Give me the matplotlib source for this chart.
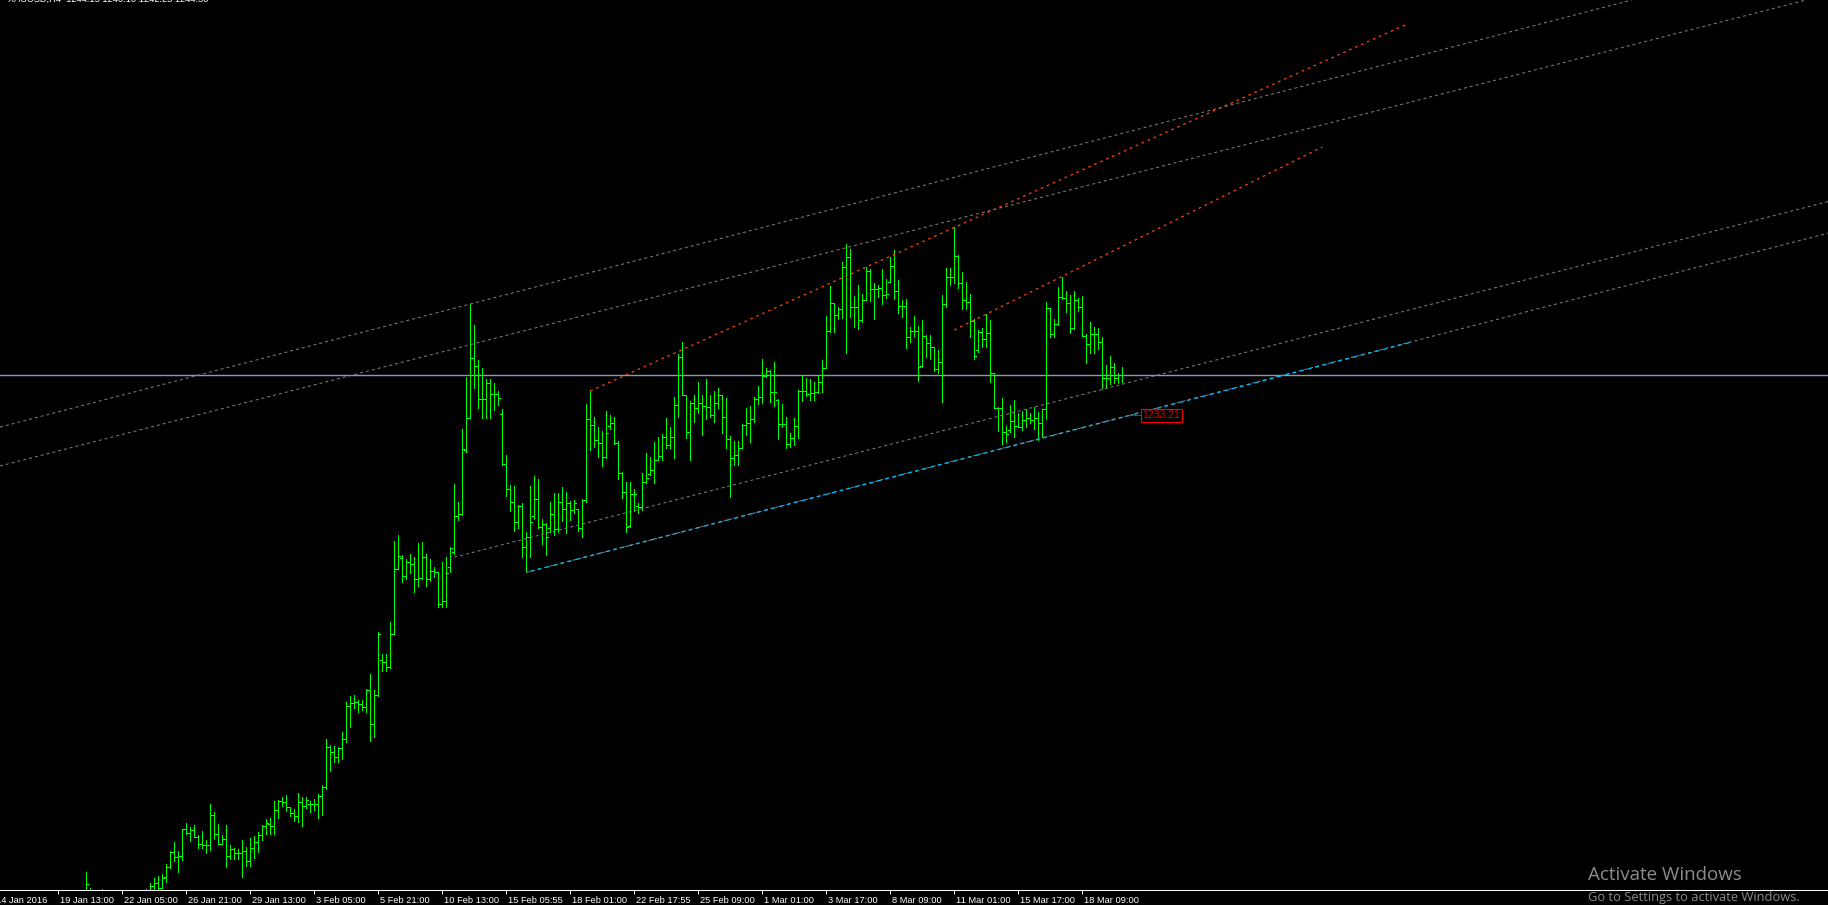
import numpy as np
import matplotlib
matplotlib.use("Agg")
import matplotlib.pyplot as plt
import matplotlib.font_manager as fm

# XAUUSD H4 bars, index of first drawn bar
first_bar = 21

opens = [
    1113.3, 1113.0, 1111.0, 1110.5, 1112.0, 1110.0, 1108.0, 1106.5, 1108.5, 1107.0,
    1105.0, 1106.5, 1109.0, 1108.0, 1110.5, 1111.5, 1112.5, 1115.5, 1116.3, 1115.0,
    1117.7, 1120.3, 1124.0, 1122.8, 1123.0, 1129.7, 1128.7, 1129.5, 1127.8, 1125.9,
    1125.7, 1125.7, 1133.2, 1128.6, 1126.1, 1127.2, 1123.0, 1124.8, 1123.8, 1123.7,
    1124.3, 1121.8, 1125.0, 1126.5, 1128.3, 1130.5, 1131.0, 1130.5, 1134.4, 1136.7,
    1136.4, 1135.3, 1133.7, 1133.0, 1136.4, 1135.6, 1136.0, 1136.1, 1135.9, 1138.0,
    1140.2, 1150.3, 1148.9, 1147.7, 1150.0, 1152.3, 1160.4, 1161.3, 1161.4, 1161.0,
    1160.3, 1164.5, 1156.0, 1163.2, 1172.0, 1171.4, 1170.2, 1178.5, 1194.8, 1197.5,
    1193.0, 1196.4, 1196.0, 1192.3, 1192.6, 1197.7, 1192.3, 1194.2, 1193.9, 1186.0,
    1186.8, 1195.2, 1199.0, 1208.1, 1208.5, 1224.5, 1232.4, 1247.4, 1245.5, 1237.3,
    1237.3, 1241.2, 1238.4, 1238.4, 1233.5, 1220.9, 1214.7, 1211.4, 1206.4, 1210.6,
    1200.3, 1202.8, 1208.0, 1212.2, 1205.3, 1205.9, 1205.0, 1208.4, 1204.7, 1211.6,
    1209.7, 1211.3, 1209.5, 1209.8, 1204.9, 1212.0, 1232.3, 1230.8, 1227.0, 1226.2,
    1222.8, 1230.5, 1231.2, 1226.3, 1218.7, 1214.1, 1205.6, 1213.5, 1210.5, 1210.3,
    1216.4, 1218.5, 1219.5, 1222.0, 1223.0, 1227.8, 1225.8, 1227.8, 1235.8, 1247.7,
    1238.3, 1229.1, 1236.2, 1234.9, 1236.2, 1235.5, 1235.3, 1233.3, 1236.3, 1238.3,
    1232.8, 1227.2, 1222.4, 1223.3, 1224.9, 1230.8, 1231.2, 1232.2, 1237.2, 1237.8,
    1243.0, 1244.3, 1238.9, 1237.0, 1230.9, 1230.9, 1225.9, 1227.6, 1230.6, 1239.3,
    1239.3, 1238.5, 1238.7, 1239.1, 1241.6, 1244.9, 1254.3, 1261.2, 1258.3, 1259.8,
    1270.2, 1272.8, 1260.3, 1260.3, 1257.0, 1262.0, 1269.3, 1264.8, 1264.8, 1264.9,
    1263.3, 1266.5, 1270.6, 1264.3, 1260.5, 1260.5, 1252.8, 1254.3, 1254.3, 1245.5,
    1253.0, 1251.3, 1250.3, 1244.7, 1246.4, 1261.0, 1267.7, 1267.7, 1273.0, 1266.3,
    1262.0, 1261.6, 1256.8, 1249.5, 1253.9, 1252.3, 1253.7, 1243.8, 1235.1, 1234.9,
    1228.9, 1229.5, 1231.8, 1230.5, 1230.3, 1232.0, 1232.4, 1232.0, 1232.4, 1231.2,
    1234.7, 1259.9, 1253.4, 1255.9, 1262.7, 1262.4, 1261.2, 1254.9, 1262.0, 1260.2,
    1253.0, 1251.0, 1253.5, 1253.5, 1251.6, 1242.4, 1242.4, 1245.3, 1242.4, 1243.3,
]
highs = [
    1119.0, 1115.0, 1113.5, 1113.0, 1114.8, 1112.5, 1111.0, 1110.0, 1112.0, 1109.5,
    1108.0, 1110.5, 1112.0, 1111.5, 1113.5, 1114.8, 1116.3, 1117.5, 1118.0, 1118.5,
    1121.0, 1124.3, 1126.5, 1124.3, 1129.8, 1131.3, 1130.3, 1130.8, 1128.3, 1129.3,
    1127.0, 1136.0, 1134.0, 1131.0, 1128.2, 1130.8, 1125.7, 1125.1, 1124.8, 1127.0,
    1125.3, 1127.5, 1128.0, 1129.0, 1130.8, 1132.3, 1132.6, 1136.8, 1137.1, 1137.8,
    1138.3, 1135.3, 1134.7, 1138.8, 1137.8, 1137.8, 1136.8, 1137.3, 1138.6, 1140.8,
    1152.3, 1150.8, 1150.6, 1150.3, 1154.1, 1161.4, 1163.1, 1163.3, 1162.1, 1162.1,
    1164.8, 1168.6, 1164.6, 1179.1, 1173.5, 1173.5, 1181.6, 1201.8, 1203.3, 1198.3,
    1197.3, 1198.5, 1197.8, 1201.3, 1201.5, 1198.5, 1197.3, 1195.3, 1193.9, 1196.4,
    1197.7, 1200.3, 1216.0, 1211.6, 1229.8, 1242.7, 1261.0, 1255.8, 1247.0, 1244.9,
    1242.3, 1242.3, 1241.2, 1239.3, 1234.8, 1223.3, 1215.8, 1215.5, 1210.8, 1211.3,
    1203.9, 1215.5, 1218.0, 1217.2, 1207.2, 1206.2, 1211.6, 1213.7, 1213.7, 1215.2,
    1213.9, 1211.8, 1212.0, 1209.8, 1212.3, 1236.0, 1239.3, 1232.8, 1230.3, 1229.3,
    1234.3, 1233.3, 1232.8, 1226.8, 1219.1, 1216.6, 1216.4, 1214.8, 1211.2, 1218.7,
    1223.8, 1222.8, 1226.6, 1227.7, 1228.5, 1232.6, 1230.3, 1237.8, 1248.5, 1251.6,
    1238.3, 1236.8, 1238.3, 1241.4, 1238.3, 1242.2, 1238.3, 1239.3, 1239.9, 1238.3,
    1237.4, 1228.0, 1226.8, 1226.8, 1231.0, 1235.1, 1235.5, 1237.8, 1240.6, 1247.3,
    1244.9, 1244.5, 1246.4, 1237.3, 1236.0, 1232.7, 1228.7, 1232.4, 1239.5, 1243.0,
    1242.6, 1242.3, 1241.6, 1243.3, 1247.0, 1258.0, 1265.5, 1261.3, 1260.2, 1271.6,
    1276.0, 1274.8, 1263.0, 1265.8, 1263.5, 1270.3, 1269.8, 1266.2, 1265.8, 1269.7,
    1267.3, 1272.8, 1274.5, 1267.0, 1262.0, 1262.2, 1255.2, 1258.1, 1255.6, 1257.0,
    1253.3, 1253.3, 1250.3, 1249.5, 1263.3, 1270.0, 1270.1, 1280.3, 1273.3, 1268.9,
    1266.6, 1263.5, 1257.2, 1254.5, 1254.9, 1258.5, 1257.0, 1243.8, 1235.2, 1237.4,
    1230.5, 1235.8, 1237.0, 1233.8, 1234.3, 1234.8, 1233.8, 1235.2, 1234.1, 1234.8,
    1261.4, 1259.9, 1257.3, 1265.3, 1267.8, 1264.3, 1263.3, 1264.3, 1262.4, 1263.0,
    1253.5, 1256.6, 1255.3, 1254.9, 1252.8, 1245.8, 1248.0, 1246.2, 1243.7, 1245.3,
]
lows = [
    1110.0, 1109.5, 1108.0, 1107.5, 1108.5, 1106.0, 1104.5, 1103.0, 1105.5, 1103.5,
    1102.0, 1104.0, 1106.5, 1105.0, 1107.5, 1108.5, 1110.0, 1113.0, 1114.8, 1115.0,
    1116.6, 1120.1, 1121.8, 1119.1, 1122.1, 1128.4, 1126.8, 1127.8, 1125.1, 1125.1,
    1123.8, 1124.6, 1127.3, 1126.1, 1126.1, 1120.3, 1122.3, 1122.3, 1122.3, 1117.8,
    1120.5, 1120.5, 1122.5, 1124.0, 1127.0, 1128.5, 1128.5, 1128.5, 1132.6, 1135.6,
    1134.3, 1133.1, 1131.8, 1131.6, 1130.6, 1135.1, 1134.1, 1134.4, 1132.6, 1133.3,
    1139.8, 1144.3, 1146.6, 1146.6, 1147.3, 1151.4, 1155.3, 1160.1, 1159.1, 1159.4,
    1159.1, 1151.8, 1152.8, 1163.1, 1169.3, 1169.3, 1169.9, 1178.5, 1194.8, 1191.6,
    1192.3, 1193.8, 1189.1, 1190.6, 1192.3, 1190.6, 1191.8, 1192.8, 1185.3, 1185.3,
    1185.3, 1194.1, 1198.5, 1207.0, 1208.3, 1224.1, 1232.4, 1240.1, 1235.1, 1232.4,
    1232.4, 1232.4, 1234.5, 1235.8, 1220.8, 1213.1, 1209.3, 1204.3, 1204.9, 1197.7,
    1193.9, 1197.7, 1207.2, 1204.9, 1200.9, 1198.3, 1204.1, 1203.3, 1204.1, 1206.8,
    1203.7, 1207.0, 1208.7, 1204.3, 1202.8, 1211.6, 1224.5, 1225.3, 1222.8, 1220.6,
    1222.6, 1229.7, 1225.9, 1217.2, 1212.6, 1204.1, 1205.3, 1209.3, 1208.8, 1209.5,
    1216.2, 1218.3, 1216.2, 1222.0, 1222.0, 1224.9, 1224.9, 1222.4, 1232.7, 1238.3,
    1227.4, 1222.0, 1231.6, 1233.7, 1228.3, 1232.2, 1232.8, 1231.6, 1234.9, 1228.7,
    1224.9, 1212.8, 1220.8, 1220.8, 1224.9, 1228.3, 1226.6, 1231.6, 1236.0, 1236.2,
    1242.8, 1236.6, 1235.6, 1227.3, 1230.3, 1225.1, 1225.3, 1225.8, 1227.6, 1236.8,
    1238.1, 1237.0, 1237.0, 1238.7, 1239.1, 1244.9, 1254.1, 1253.9, 1257.3, 1257.4,
    1248.7, 1257.8, 1255.3, 1254.7, 1256.4, 1262.0, 1261.8, 1257.2, 1262.8, 1260.9,
    1262.6, 1266.4, 1262.2, 1258.7, 1257.8, 1249.9, 1251.6, 1253.0, 1241.8, 1245.3,
    1247.8, 1247.2, 1244.3, 1243.7, 1236.6, 1260.3, 1265.8, 1266.3, 1264.9, 1259.7,
    1259.7, 1252.7, 1247.2, 1249.1, 1250.3, 1250.2, 1241.6, 1234.9, 1229.3, 1225.9,
    1226.6, 1228.9, 1227.8, 1230.2, 1229.5, 1230.2, 1231.3, 1229.7, 1227.0, 1227.8,
    1232.2, 1252.7, 1252.7, 1255.8, 1262.3, 1259.1, 1253.7, 1254.7, 1259.3, 1253.0,
    1246.3, 1248.7, 1248.7, 1249.7, 1239.9, 1239.9, 1241.0, 1241.2, 1241.2, 1241.6,
]
closes = [
    1116.0, 1111.0, 1110.5, 1112.0, 1110.0, 1108.0, 1106.5, 1108.5, 1107.0, 1105.0,
    1106.5, 1109.0, 1108.0, 1110.5, 1111.5, 1112.5, 1115.5, 1116.3, 1115.0, 1117.5,
    1120.3, 1123.9, 1122.8, 1123.0, 1129.7, 1128.7, 1129.5, 1127.8, 1125.9, 1125.7,
    1125.7, 1133.2, 1128.6, 1126.1, 1127.2, 1123.0, 1124.8, 1123.8, 1123.7, 1124.3,
    1121.8, 1125.0, 1126.5, 1128.3, 1130.6, 1131.3, 1130.5, 1134.4, 1136.7, 1136.4,
    1135.3, 1133.7, 1133.0, 1136.4, 1135.6, 1137.0, 1136.1, 1135.9, 1138.0, 1140.2,
    1150.3, 1148.9, 1147.7, 1150.0, 1152.3, 1160.4, 1161.3, 1161.4, 1161.0, 1160.3,
    1164.5, 1156.0, 1163.2, 1178.4, 1171.4, 1170.2, 1178.5, 1194.8, 1198.1, 1193.0,
    1196.4, 1196.0, 1192.3, 1192.6, 1197.7, 1192.3, 1194.2, 1193.9, 1186.0, 1186.8,
    1193.7, 1199.9, 1208.1, 1208.5, 1224.8, 1232.4, 1247.4, 1245.5, 1237.3, 1237.3,
    1241.2, 1238.4, 1238.4, 1237.4, 1220.9, 1214.7, 1211.4, 1206.4, 1210.6, 1200.3,
    1202.8, 1206.5, 1212.2, 1205.3, 1205.9, 1202.8, 1208.4, 1204.7, 1211.6, 1209.7,
    1211.3, 1209.5, 1211.3, 1204.9, 1212.0, 1232.3, 1230.8, 1227.0, 1226.2, 1222.8,
    1228.8, 1231.2, 1226.3, 1218.7, 1214.1, 1205.2, 1213.5, 1213.5, 1210.3, 1216.6,
    1217.6, 1219.5, 1222.0, 1223.0, 1227.8, 1225.8, 1227.8, 1235.8, 1247.7, 1238.3,
    1229.1, 1236.2, 1234.9, 1236.2, 1235.5, 1235.3, 1233.3, 1236.3, 1238.3, 1232.8,
    1227.2, 1222.4, 1223.3, 1224.9, 1230.8, 1231.2, 1232.2, 1237.2, 1237.8, 1243.0,
    1244.3, 1238.9, 1239.1, 1230.9, 1230.9, 1225.9, 1227.6, 1230.6, 1239.3, 1239.3,
    1238.5, 1238.7, 1239.1, 1241.6, 1244.9, 1254.3, 1261.2, 1258.3, 1259.8, 1270.2,
    1272.8, 1260.3, 1260.3, 1257.0, 1262.0, 1269.3, 1264.8, 1264.8, 1264.9, 1263.3,
    1263.5, 1270.6, 1264.3, 1260.5, 1260.5, 1252.8, 1254.3, 1254.3, 1245.2, 1253.0,
    1251.3, 1250.3, 1244.7, 1246.4, 1261.0, 1267.7, 1267.7, 1273.0, 1266.3, 1262.0,
    1261.6, 1256.8, 1248.0, 1253.9, 1252.3, 1253.7, 1243.8, 1235.1, 1234.9, 1228.9,
    1228.4, 1231.8, 1230.5, 1230.3, 1232.0, 1232.4, 1232.0, 1232.4, 1231.2, 1234.7,
    1259.9, 1253.4, 1255.9, 1262.7, 1262.4, 1261.2, 1254.9, 1262.0, 1260.2, 1253.0,
    1251.0, 1253.5, 1253.5, 1251.6, 1242.4, 1242.4, 1245.3, 1242.4, 1243.3, 1243.3,
]

# time axis labels (bar index, text)
label_bars = [-2, 14, 30, 46, 62, 78, 94, 110, 126, 142, 158, 174, 190, 206, 222, 238, 254, 270]
label_texts = ["14 Jan 2016", "19 Jan 13:00", "22 Jan 05:00", "26 Jan 21:00", "29 Jan 13:00",
               "3 Feb 05:00", "5 Feb 21:00", "10 Feb 13:00", "15 Feb 05:55", "18 Feb 01:00",
               "22 Feb 17:55", "25 Feb 09:00", "1 Mar 01:00", "3 Mar 17:00", "8 Mar 09:00",
               "11 Mar 01:00", "15 Mar 17:00", "18 Mar 09:00"]

# trendline objects: (bar1, price1, bar2, price2)
gray_rays_both = [(117, 1261.0, 407, 1336.9), (0, 1220.65, 400, 1323.85)]
gray_rays_right = [(113, 1197.7, 400, 1272.0), (131, 1193.9, 400, 1264.0)]
blue_line = (131, 1193.9, 352, 1251.4)
orange_lines = [(147, 1239.25, 351, 1330.9), (238, 1254.5, 330, 1300.25)]
price_label = 1233.21
title = "XAUUSD,H4  1244.15 1246.10 1242.25 1244.50"

names = {f.name for f in fm.fontManager.ttflist}
narrow = "Liberation Sans Narrow" in names
small_font = "Liberation Sans Narrow" if narrow else "Liberation Sans"

W, H = 1828, 905
fig = plt.figure(figsize=(W / 100, H / 100), dpi=100, facecolor="black")
ax = fig.add_axes([0, 15 / H, 1, 890 / H], facecolor="black")

px = 0.72  # one pixel in points
x = np.arange(first_bar, first_bar + len(closes))
green = "#00ff00"
ax.vlines(x, lows, highs, colors=green, lw=px, antialiased=False, zorder=2)
ax.hlines(opens, x - 0.5, x, colors=green, lw=px, antialiased=False, zorder=2)
ax.hlines(closes, x, x + 0.5, colors=green, lw=px, antialiased=False, zorder=2)

# current price line
ax.axhline(closes[-1], color="#8c9bab", lw=px * 1.4, zorder=1)

gray = "#808080"
for b1, p1, b2, p2 in gray_rays_both:
    ax.axline((b1, p1), (b2, p2), color=gray, lw=px, ls=(0, (3, 3)), zorder=3)
xr = 470
for b1, p1, b2, p2 in gray_rays_right:
    slope = (p2 - p1) / (b2 - b1)
    ax.plot([b1, xr], [p1, p1 + slope * (xr - b1)], color=gray, lw=px, ls=(0, (3, 3)), zorder=3)
b1, p1, b2, p2 = blue_line
ax.plot([b1, b2], [p1, p2], color="#00bfff", lw=px * 1.3, ls=(3, (3, 3)), zorder=4)
for b1, p1, b2, p2 in orange_lines:
    ax.plot([b1, b2], [p1, p2], color="#ff4500", lw=px * 1.3, ls=(0, (2, 3)), zorder=4)

# red price label of the trendline
last = x[-1]
ax.plot([last + 1.7, last + 4.7], [price_label + 0.1, price_label + 0.1], color="#ff0000", lw=px, zorder=5)
ax.text(last + 5.0, price_label, f"{price_label:.2f}", color="#dd0000",
        fontsize=9 if narrow else 7.5, family=small_font, ha="left", va="center", zorder=5,
        bbox=dict(facecolor="black", edgecolor="#ff0000", lw=px, boxstyle="square,pad=0.15"))

# axes frame: only bottom line with ticks
for s in ["top", "left", "right"]:
    ax.spines[s].set_visible(False)
ax.spines["bottom"].set_color("white")
ax.spines["bottom"].set_linewidth(px)
ax.set_yticks([])
ax.set_xticks(label_bars[1:])
ax.tick_params(axis="x", colors="white", length=3, width=px, direction="out", labelbottom=False)
for b, t in zip(label_bars, label_texts):
    ax.text(b + 0.3, -13 / 890, t, transform=ax.get_xaxis_transform(), color="white",
            fontsize=7.8 if narrow else 6.7, family=small_font, ha="left", va="baseline", clip_on=False)

# limits set last so the ticks cannot widen them
ax.set_xlim(-0.575, 456.425)
ax.set_ylim(1114.5, 1337)

# chart title, mostly cut off at the top
fig.text(8 / W, 1 - 2 / H, title, color="white", fontsize=7.8 if narrow else 6.7,
         family=small_font, ha="left", va="baseline")

# windows watermark
fig.text(1588 / W, (H - 879.5) / H, "Activate Windows", color="#8c8c8c", fontsize=13.5,
         family="Open Sans", ha="left", va="baseline")
fig.text(1588 / W, (H - 901) / H, "Go to Settings to activate Windows.", color="#8c8c8c",
         fontsize=9.3, family="Open Sans", ha="left", va="baseline")

fig.savefig("out.png", dpi=100, facecolor="black")
